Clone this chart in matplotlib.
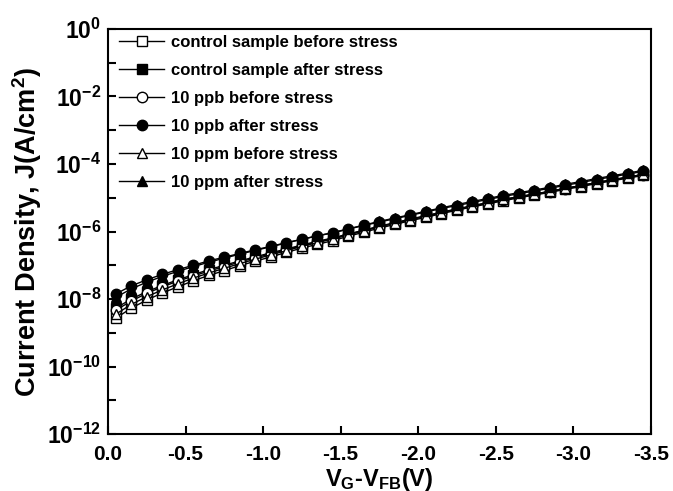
import matplotlib
matplotlib.use("Agg")
import matplotlib.pyplot as plt
from matplotlib.ticker import FixedLocator, FuncFormatter
from matplotlib.font_manager import FontProperties
import numpy as np

FAMILY = ['Liberation Sans', 'DejaVu Sans']
plt.rcParams['font.family'] = FAMILY
plt.rcParams['font.weight'] = 'bold'
plt.rcParams['mathtext.default'] = 'regular'
plt.rcParams['axes.labelweight'] = 'bold'

# Gate voltage V_G - V_FB (V)
voltage = [-0.05, -0.15, -0.25, -0.35, -0.45, -0.55, -0.65, -0.75, -0.85, -0.95,
           -1.05, -1.15, -1.25, -1.35, -1.45, -1.55, -1.65, -1.75, -1.85, -1.95,
           -2.05, -2.15, -2.25, -2.35, -2.45, -2.55, -2.65, -2.75, -2.85, -2.95,
           -3.05, -3.15, -3.25, -3.35, -3.45]

# log10 of current density J (A/cm^2)
log_ctrl_before = [-8.57, -8.27, -8.03, -7.82, -7.64, -7.46, -7.30, -7.16, -7.01, -6.88,
                   -6.75, -6.62, -6.49, -6.38, -6.27, -6.14, -6.02, -5.90, -5.79, -5.68,
                   -5.58, -5.47, -5.37, -5.27, -5.18, -5.09, -5.00, -4.92, -4.84, -4.75,
                   -4.67, -4.58, -4.50, -4.42, -4.34]
log_ctrl_after = [-8.27, -8.00, -7.78, -7.60, -7.43, -7.28, -7.13, -7.00, -6.87, -6.75,
                  -6.63, -6.52, -6.40, -6.29, -6.19, -6.07, -5.96, -5.84, -5.74, -5.63,
                  -5.53, -5.43, -5.33, -5.24, -5.14, -5.05, -4.97, -4.89, -4.81, -4.72,
                  -4.64, -4.55, -4.47, -4.39, -4.31]
log_ppb_before = [-8.33, -8.06, -7.83, -7.64, -7.47, -7.32, -7.17, -7.04, -6.90, -6.78,
                  -6.66, -6.54, -6.42, -6.31, -6.21, -6.09, -5.97, -5.86, -5.75, -5.65,
                  -5.55, -5.44, -5.34, -5.25, -5.16, -5.06, -4.98, -4.90, -4.82, -4.73,
                  -4.65, -4.56, -4.48, -4.40, -4.32]
log_ppb_after = [-7.85, -7.61, -7.43, -7.27, -7.13, -7.00, -6.87, -6.76, -6.65, -6.54,
                 -6.44, -6.33, -6.23, -6.13, -6.04, -5.93, -5.82, -5.72, -5.62, -5.52,
                 -5.42, -5.32, -5.23, -5.14, -5.05, -4.96, -4.88, -4.80, -4.72, -4.63,
                 -4.55, -4.46, -4.38, -4.30, -4.22]
log_ppm_before = [-8.45, -8.16, -7.93, -7.73, -7.55, -7.38, -7.23, -7.09, -6.95, -6.82,
                  -6.69, -6.57, -6.44, -6.33, -6.22, -6.10, -5.98, -5.86, -5.75, -5.65,
                  -5.54, -5.44, -5.34, -5.24, -5.15, -5.05, -4.97, -4.89, -4.81, -4.72,
                  -4.64, -4.55, -4.47, -4.39, -4.31]
log_ppm_after = [-7.95, -7.70, -7.50, -7.33, -7.18, -7.04, -6.91, -6.79, -6.67, -6.56,
                 -6.45, -6.34, -6.23, -6.13, -6.03, -5.92, -5.81, -5.70, -5.60, -5.50,
                 -5.40, -5.30, -5.20, -5.11, -5.02, -4.93, -4.85, -4.77, -4.69, -4.60,
                 -4.52, -4.43, -4.35, -4.27, -4.19]

labels = ["control sample before stress", "control sample after stress",
          "10 ppb before stress", "10 ppb after stress",
          "10 ppm before stress", "10 ppm after stress"]
series = [log_ctrl_before, log_ctrl_after, log_ppb_before,
          log_ppb_after, log_ppm_before, log_ppm_after]
markers = ['s', 's', 'o', 'o', '^', '^']
filled = [False, True, False, True, False, True]

x_ticks = [0.0, -0.5, -1.0, -1.5, -2.0, -2.5, -3.0, -3.5]
x_tick_labels = ["0.0", "-0.5", "-1.0", "-1.5", "-2.0", "-2.5", "-3.0", "-3.5"]

fig = plt.figure(figsize=(6.73, 4.91), dpi=100)
ax = fig.add_axes([0.1605, 0.116, 0.8065, 0.825])

for lab, vals, m, f in zip(labels, series, markers, filled):
    ax.plot(voltage, 10.0 ** np.array(vals), color='black', lw=1.0,
            marker=m, markersize=7.5, markeredgewidth=1.0,
            markerfacecolor='black' if f else 'white',
            markeredgecolor='black', label=lab)

ax.set_yscale('log')
ax.set_ylim(1e-12, 1e0)
ax.set_xlim(0.0, -3.5)

ax.set_xticks(x_ticks)
ax.set_xticklabels(x_tick_labels)
ax.xaxis.set_minor_locator(FixedLocator([]))

decades = [10.0 ** k for k in range(-12, 1)]
ax.yaxis.set_major_locator(FixedLocator(decades))
ax.yaxis.set_minor_locator(FixedLocator([]))

def yfmt(v, pos):
    e = int(round(np.log10(v)))
    if e % 2 == 0:
        return r"$\mathdefault{10^{%d}}$" % e
    return ""

ax.yaxis.set_major_formatter(FuncFormatter(yfmt))

ax.tick_params(axis='both', which='both', direction='in', length=6, width=1.5,
               top=False, right=False)
ax.tick_params(axis='x', labelsize=15, pad=8)
ax.tick_params(axis='y', labelsize=16.5, pad=5)
for lbl in ax.get_xticklabels() + ax.get_yticklabels():
    lbl.set_fontweight('bold')

for sp in ax.spines.values():
    sp.set_linewidth(1.5)

ax.set_xlabel(r"V$_G$-V$_{FB}$(V)", fontsize=17, fontweight='bold', labelpad=1)
ax.set_ylabel(r"Current Density, J(A/cm$^2$)", fontsize=19.5, fontweight='bold',
              labelpad=2)

leg = ax.legend(loc='upper left', bbox_to_anchor=(0.018, 0.99), frameon=False,
                handlelength=2.7, handletextpad=0.42, labelspacing=0.78,
                borderaxespad=0.0, borderpad=0.1,
                prop=FontProperties(family=FAMILY, weight='bold', size=12))

fig.savefig("out.png", dpi=100)
